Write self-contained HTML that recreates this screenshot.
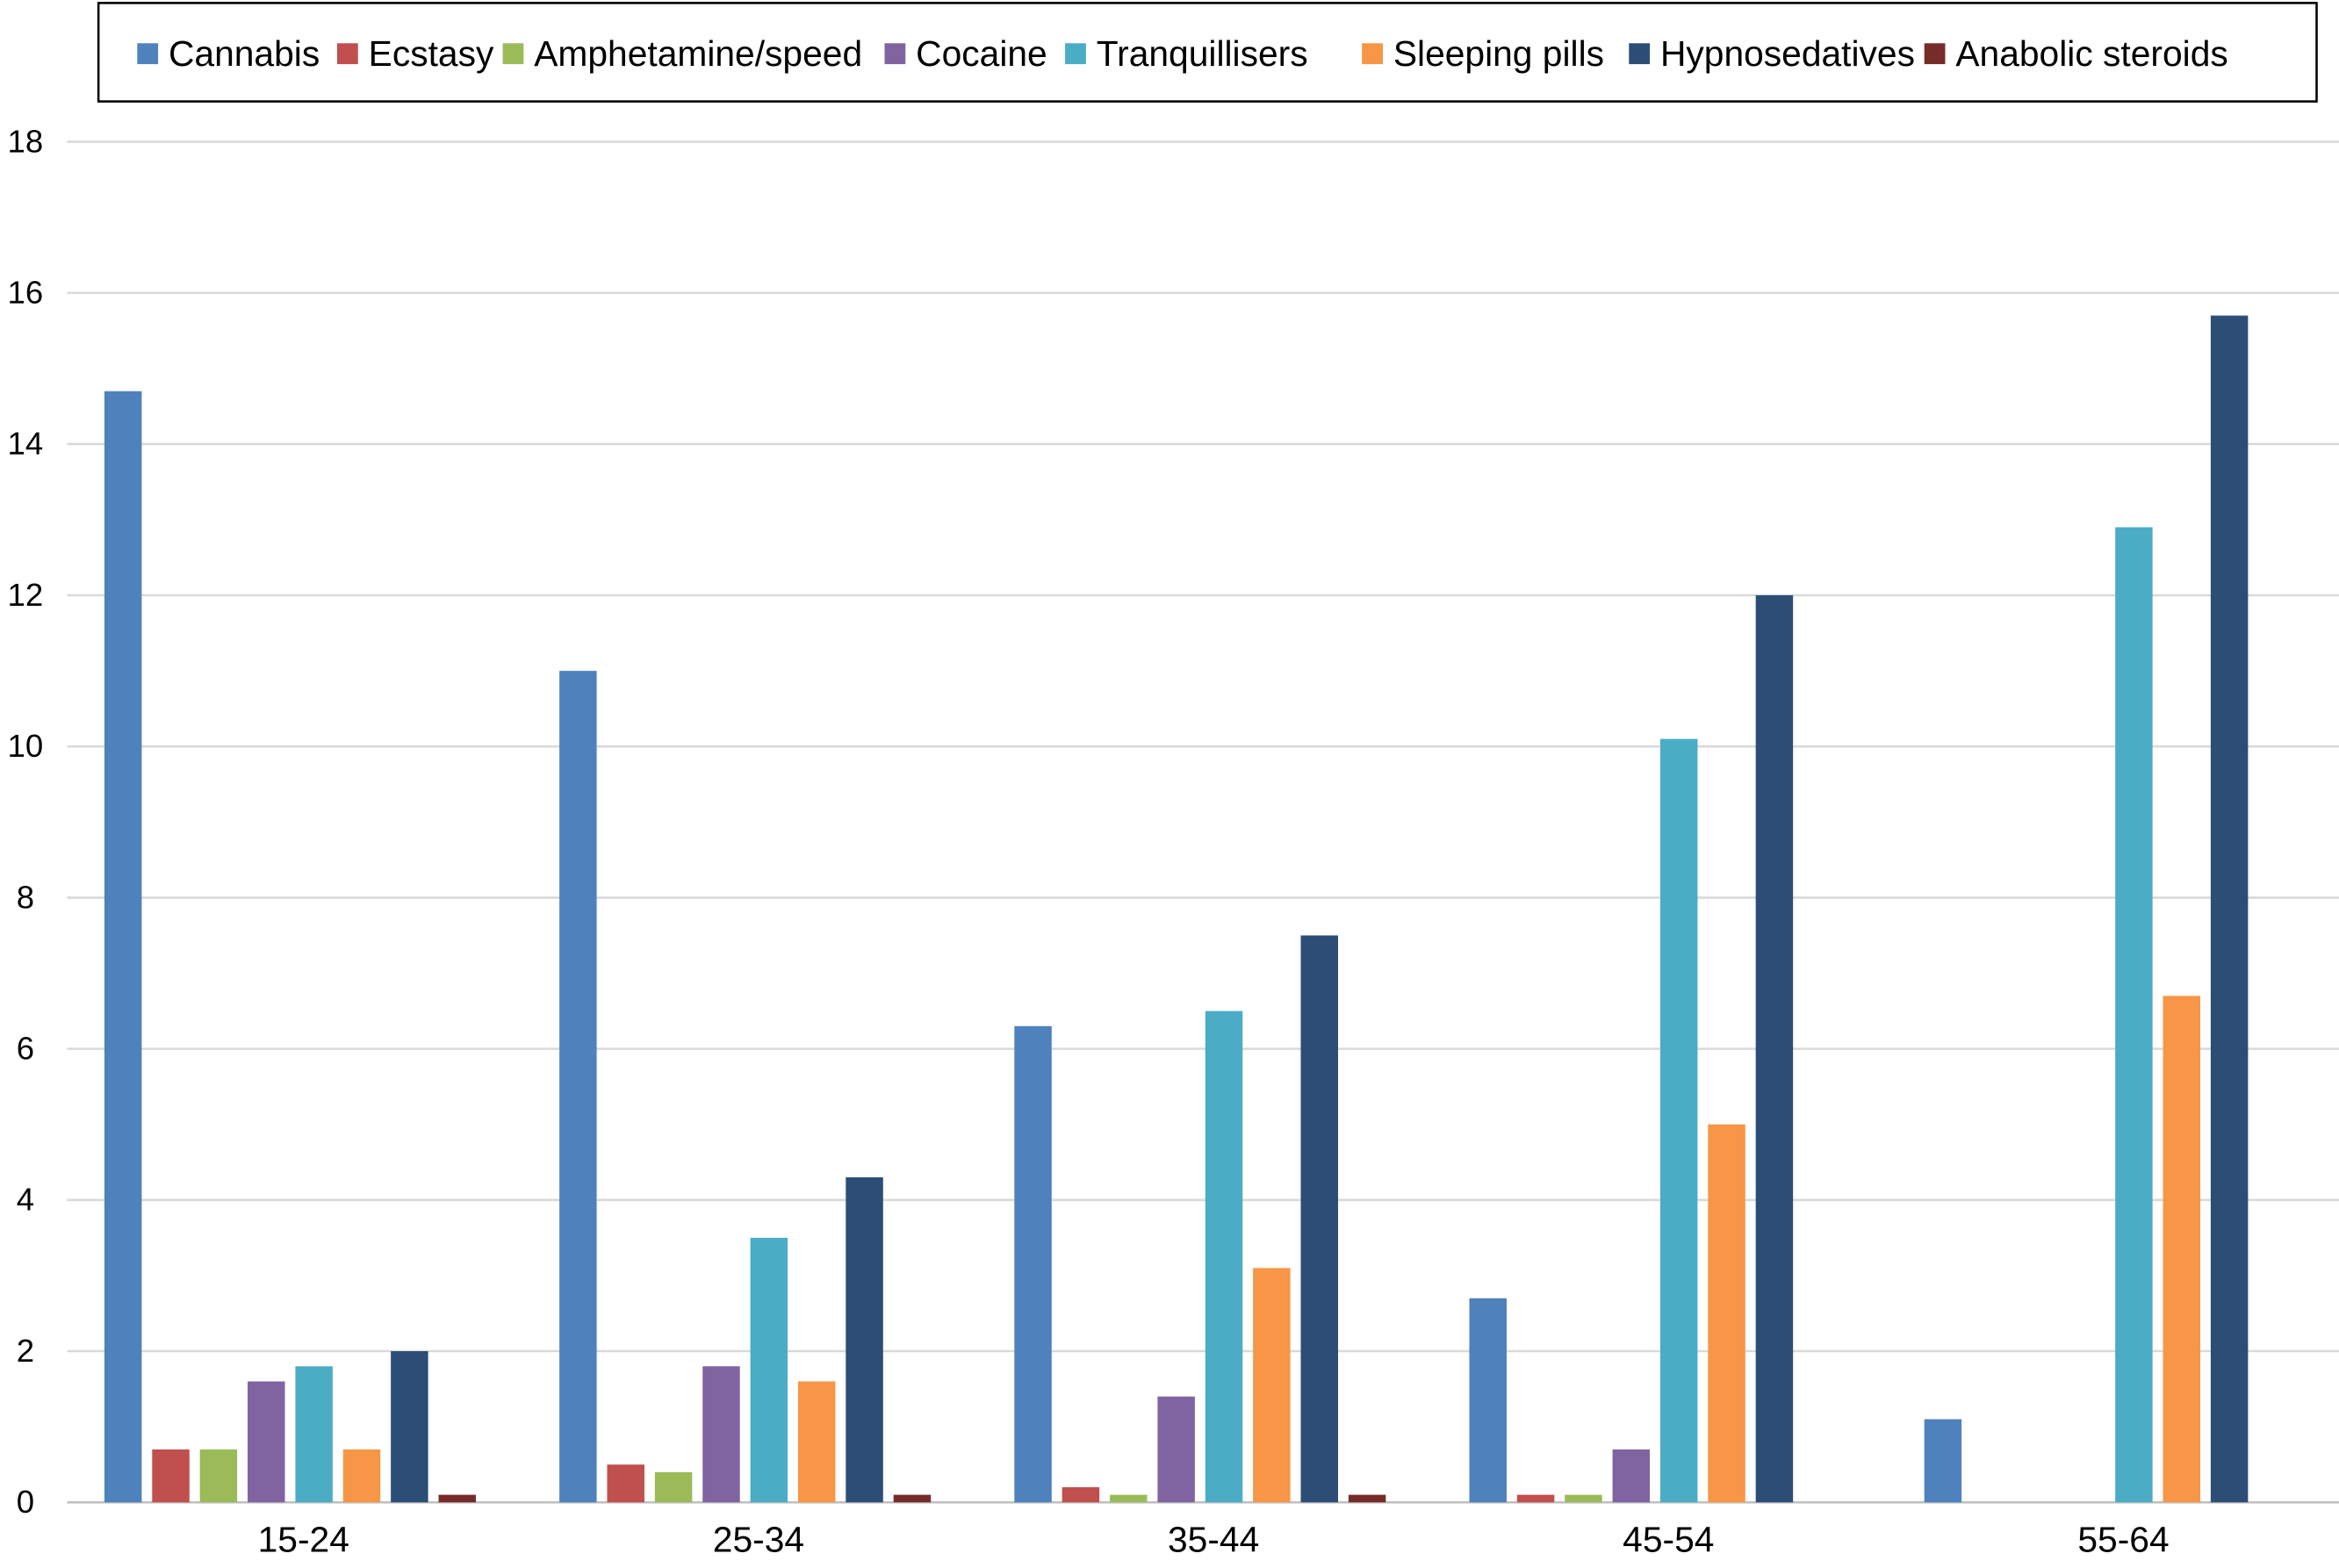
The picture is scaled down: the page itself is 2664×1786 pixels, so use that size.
<!DOCTYPE html>
<html><head><meta charset="utf-8"><style>
html,body{margin:0;padding:0;background:#fff;}
svg{display:block;font-family:"Liberation Sans",Arial,sans-serif;}
</style></head><body>
<svg id="chart" width="2664" height="1786" viewBox="0 0 1568 1051" preserveAspectRatio="none" xmlns="http://www.w3.org/2000/svg">
<g id="grid"></g>
<g id="yticks"></g>
<g id="bars"></g>
<g id="xlabels"></g>
<g id="legend">
<rect x="66" y="2" width="1487" height="66" fill="#fff" stroke="#000" stroke-width="1.5"/>
</g>
</svg>
<script>
const categories = ["15-24","25-34","35-44","45-54","55-64"];
const seriesNames = ["Cannabis","Ecstasy","Amphetamine/speed","Cocaine","Tranquillisers","Sleeping pills","Hypnosedatives","Anabolic steroids"];
const cannabis = [14.7, 11, 6.3, 2.7, 1.1];
const ecstasy = [0.7, 0.5, 0.2, 0.1, 0];
const amphetamine = [0.7, 0.4, 0.1, 0.1, 0];
const cocaine = [1.6, 1.8, 1.4, 0.7, 0];
const tranquillisers = [1.8, 3.5, 6.5, 10.1, 12.9];
const sleepingPills = [0.7, 1.6, 3.1, 5.0, 6.7];
const hypnosedatives = [2.0, 4.3, 7.5, 12.0, 15.7];
const anabolic = [0.1, 0.1, 0.1, 0, 0];
const yTicks = [0,2,4,6,8,10,12,14,16,18];

const series = [cannabis, ecstasy, amphetamine, cocaine, tranquillisers, sleepingPills, hypnosedatives, anabolic];
const colors = ["#4f81bd","#c0504d","#9bbb59","#8064a2","#4bacc6","#f79646","#2c4d75","#772c2a"];
const legendX = [92,226,337,593,714,913,1092,1290];
const NS = "http://www.w3.org/2000/svg";
const y0 = 1007, yTop = 95, yMax = 18;
const xLeft = 45, band = 305, barW = 25, step = 32, groupOff = 25;
const yScale = v => y0 - v / yMax * (y0 - yTop);
const xBar = (c, s) => xLeft + c * band + groupOff + s * step;
function mk(tag, attrs, parent){const e=document.createElementNS(NS,tag);for(const k in attrs)e.setAttribute(k,attrs[k]);parent.appendChild(e);return e;}

const grid=document.getElementById('grid'), yt=document.getElementById('yticks');
yTicks.forEach(t=>{
  const l=mk('line',{x1:xLeft,x2:1568,y1:yScale(t),y2:yScale(t),stroke:t===0?'#bfbfbf':'#d9d9d9','stroke-width':1.5},grid);
  
  
  const tx=mk('text',{x:17,y:yScale(t)+7,'text-anchor':'middle','font-size':21.5,fill:'#000'},yt);
  tx.textContent=t;
  
  
});
const bars=document.getElementById('bars');
series.forEach((arr,s)=>{
  arr.forEach((v,c)=>{
    if(v<=0) return;
    const r=mk('rect',{x:xBar(c,s),y:yScale(v),width:barW,height:y0-yScale(v),fill:colors[s]},bars);
    
    
  });
});
const xl=document.getElementById('xlabels');
categories.forEach((c,i)=>{
  const t=mk('text',{x:xLeft+i*band+band/2+6,y:1040,'text-anchor':'middle','font-size':24,fill:'#000'},xl);
  t.textContent=c;
  
  
});
const lg=document.getElementById('legend');
seriesNames.forEach((n,i)=>{
  const g=mk('g',{},lg);
  
  
  mk('rect',{x:legendX[i],y:29,width:14,height:14,fill:colors[i]},g);
  const t=mk('text',{x:legendX[i]+21,y:44,'font-size':24,fill:'#000'},g);
  t.textContent=n;
});
</script>
</body></html>
